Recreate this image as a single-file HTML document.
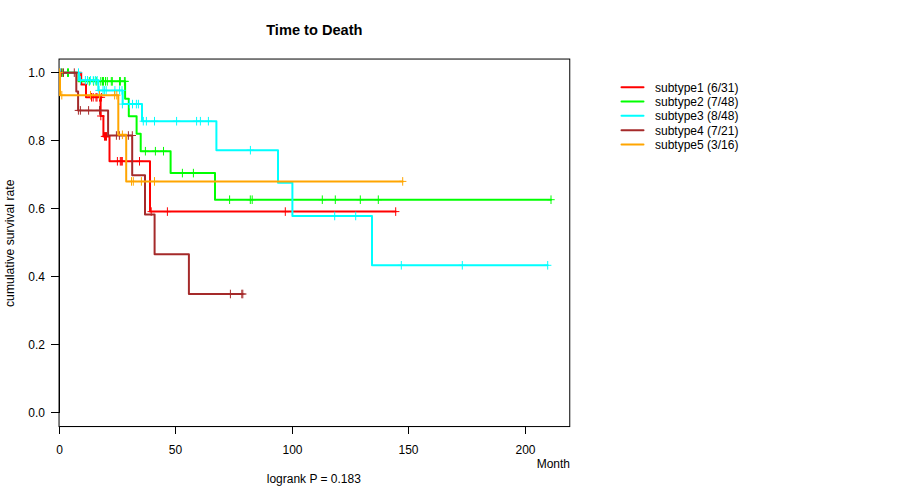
<!DOCTYPE html>
<html><head><meta charset="utf-8">
<style>
html,body{margin:0;padding:0;background:#fff;}
body{width:900px;height:500px;overflow:hidden;font-family:"Liberation Sans",sans-serif;}
svg{display:block;}
text{font-family:"Liberation Sans",sans-serif;fill:#000;}
</style></head><body>
<svg width="900" height="500" viewBox="0 0 900 500">
<rect width="900" height="500" fill="#fff"/>
<defs><clipPath id="pc"><rect x="59.04" y="59.04" width="510.72" height="367.52"/></clipPath></defs>
<rect x="59.04" y="59.04" width="510.72" height="367.52" fill="none" stroke="#000" stroke-width="1"/>
<g shape-rendering="crispEdges" fill="none" stroke="#000" stroke-width="1">
<path d="M59.5 426.5H525.5M59.5 426.5v7M175.5 426.5v7M292.5 426.5v7M408.5 426.5v7M525.5 426.5v7"/>
<path d="M59.5 72.5V412.5M51 72.5h9M51 140.5h9M51 208.5h9M51 276.5h9M51 344.5h9M51 412.5h9"/>
</g>
<g fill="none" clip-path="url(#pc)">
<path d="M59.5 72.65 H81.2 V84.5 H86 V97.3 H100.6 V116 H103.4 V136.4 H109.5 V161.3 H150 V211.6 H395.7" stroke="#ff0000" stroke-width="2" stroke-linejoin="round" stroke-linecap="round"/>
<path d="M91.5 93.40V101.20M88.20 97.3H94.80M93.2 93.40V101.20M89.90 97.3H96.50M96 93.40V101.20M92.70 97.3H99.30M97 93.40V101.20M93.70 97.3H100.30M99.5 93.40V101.20M96.20 97.3H102.80M101.4 93.40V101.20M98.10 97.3H104.70M100.8 112.10V119.90M97.50 116H104.10M104.5 132.50V140.30M101.20 136.4H107.80M105.5 132.50V140.30M102.20 136.4H108.80M106.5 132.50V140.30M103.20 136.4H109.80M117.4 157.40V165.20M114.10 161.3H120.70M120.3 157.40V165.20M117.00 161.3H123.60M121.3 157.40V165.20M118.00 161.3H124.60M122.3 157.40V165.20M119.00 161.3H125.60M139.5 157.40V165.20M136.20 161.3H142.80M151.2 207.70V215.50M147.90 211.6H154.50M167.4 207.70V215.50M164.10 211.6H170.70M285.3 207.70V215.50M282.00 211.6H288.60M395.7 207.70V215.50M392.40 211.6H399.00" stroke="#ff0000" stroke-width="1" stroke-linecap="round"/>
<path d="M59.5 72.65 H78.5 V81.35 H125.1 V98.85 H128.8 V116.3 H136.6 V133.8 H140.7 V151.2 H170.6 V173.1 H215 V199.7 H551" stroke="#00ff00" stroke-width="2" stroke-linejoin="round" stroke-linecap="round"/>
<path d="M62.3 68.75V76.55M59.00 72.65H65.60M67.5 68.75V76.55M64.20 72.65H70.80M68.5 68.75V76.55M65.20 72.65H71.80M89.3 77.45V85.25M86.00 81.35H92.60M93.6 77.45V85.25M90.30 81.35H96.90M96.2 77.45V85.25M92.90 81.35H99.50M100.8 77.45V85.25M97.50 81.35H104.10M102.5 77.45V85.25M99.20 81.35H105.80M103.5 77.45V85.25M100.20 81.35H106.80M105.5 77.45V85.25M102.20 81.35H108.80M107.3 77.45V85.25M104.00 81.35H110.60M111.3 77.45V85.25M108.00 81.35H114.60M112.3 77.45V85.25M109.00 81.35H115.60M119.5 77.45V85.25M116.20 81.35H122.80M120.4 77.45V85.25M117.10 81.35H123.70M124.4 77.45V85.25M121.10 81.35H127.70M125.2 77.45V85.25M121.90 81.35H128.50M145.4 147.30V155.10M142.10 151.2H148.70M155.4 147.30V155.10M152.10 151.2H158.70M163.5 147.30V155.10M160.20 151.2H166.80M182.4 169.20V177.00M179.10 173.1H185.70M193.4 169.20V177.00M190.10 173.1H196.70M229.6 195.80V203.60M226.30 199.7H232.90M250.3 195.80V203.60M247.00 199.7H253.60M252.2 195.80V203.60M248.90 199.7H255.50M322.3 195.80V203.60M319.00 199.7H325.60M335.3 195.80V203.60M332.00 199.7H338.60M360.3 195.80V203.60M357.00 199.7H363.60M378.3 195.80V203.60M375.00 199.7H381.60M551 195.80V203.60M547.70 199.7H554.30" stroke="#00ff00" stroke-width="1" stroke-linecap="round"/>
<path d="M59.5 72.65 H79 V80.3 H98.3 V90.4 H122.7 V104.1 H142 V121.2 H216.4 V150.2 H278 V182.7 H292.4 V216 H372 V265.3 H547.7" stroke="#00ffff" stroke-width="2" stroke-linejoin="round" stroke-linecap="round"/>
<path d="M60.6 68.75V76.55M57.30 72.65H63.90M78.5 68.75V76.55M75.20 72.65H81.80M80.5 76.40V84.20M77.20 80.3H83.80M85.4 76.40V84.20M82.10 80.3H88.70M87.5 76.40V84.20M84.20 80.3H90.80M90.4 76.40V84.20M87.10 80.3H93.70M93.3 76.40V84.20M90.00 80.3H96.60M95.4 76.40V84.20M92.10 80.3H98.70M97.2 76.40V84.20M93.90 80.3H100.50M99 86.50V94.30M95.70 90.4H102.30M103 86.50V94.30M99.70 90.4H106.30M104.4 86.50V94.30M101.10 90.4H107.70M106.2 86.50V94.30M102.90 90.4H109.50M114.9 86.50V94.30M111.60 90.4H118.20M119.6 86.50V94.30M116.30 90.4H122.90M122 86.50V94.30M118.70 90.4H125.30M122.4 100.20V108.00M119.10 104.1H125.70M129.4 100.20V108.00M126.10 104.1H132.70M132.5 100.20V108.00M129.20 104.1H135.80M136.4 100.20V108.00M133.10 104.1H139.70M138.4 100.20V108.00M135.10 104.1H141.70M143.3 117.30V125.10M140.00 121.2H146.60M146.4 117.30V125.10M143.10 121.2H149.70M154.5 117.30V125.10M151.20 121.2H157.80M176.6 117.30V125.10M173.30 121.2H179.90M196.6 117.30V125.10M193.30 121.2H199.90M200.4 117.30V125.10M197.10 121.2H203.70M208.4 117.30V125.10M205.10 121.2H211.70M250.4 146.30V154.10M247.10 150.2H253.70M334.7 212.10V219.90M331.40 216H338.00M355.7 212.10V219.90M352.40 216H359.00M401.3 261.40V269.20M398.00 265.3H404.60M462.3 261.40V269.20M459.00 265.3H465.60M547.7 261.40V269.20M544.40 265.3H551.00" stroke="#00ffff" stroke-width="1" stroke-linecap="round"/>
<path d="M59.5 72.65 H76.3 V91.4 H78.1 V110.4 H108.1 V135.5 H132.2 V175.3 H145 V214.6 H154.6 V254.2 H188.9 V294 H242.6" stroke="#a52a2a" stroke-width="2" stroke-linejoin="round" stroke-linecap="round"/>
<path d="M61.4 68.75V76.55M58.10 72.65H64.70M63.5 68.75V76.55M60.20 72.65H66.80M74.3 68.75V76.55M71.00 72.65H77.60M78.4 106.50V114.30M75.10 110.4H81.70M80.4 106.50V114.30M77.10 110.4H83.70M88.6 106.50V114.30M85.30 110.4H91.90M99.5 106.50V114.30M96.20 110.4H102.80M116.4 131.60V139.40M113.10 135.5H119.70M119.4 131.60V139.40M116.10 135.5H122.70M128.4 131.60V139.40M125.10 135.5H131.70M132.3 131.60V139.40M129.00 135.5H135.60M230.4 290.10V297.90M227.10 294H233.70M241.8 290.10V297.90M238.50 294H245.10M242.8 290.10V297.90M239.50 294H246.10" stroke="#a52a2a" stroke-width="1" stroke-linecap="round"/>
<path d="M59.5 72.65 H60 V95.2 H118.3 V134.8 H126.2 V181.4 H402.7" stroke="#ffa500" stroke-width="2" stroke-linejoin="round" stroke-linecap="round"/>
<path d="M59.6 68.75V76.55M56.30 72.65H62.90M61.8 91.30V99.10M58.50 95.2H65.10M90.5 91.30V99.10M87.20 95.2H93.80M99.5 91.30V99.10M96.20 95.2H102.80M114.6 91.30V99.10M111.30 95.2H117.90M116.8 91.30V99.10M113.50 95.2H120.10M122.4 130.90V138.70M119.10 134.8H125.70M131.5 177.50V185.30M128.20 181.4H134.80M133.3 177.50V185.30M130.00 181.4H136.60M141.4 177.50V185.30M138.10 181.4H144.70M154.5 177.50V185.30M151.20 181.4H157.80M402.7 177.50V185.30M399.40 181.4H406.00" stroke="#ffa500" stroke-width="1" stroke-linecap="round"/>
</g>
<text x="266.2" y="35" font-size="14.7" font-weight="bold" textLength="96.3" lengthAdjust="spacingAndGlyphs">Time to Death</text>
<g font-size="12" text-anchor="middle">
<text x="59.5" y="454">0</text><text x="175.5" y="454">50</text><text x="292.5" y="454">100</text><text x="408.5" y="454">150</text><text x="525.5" y="454">200</text>
</g>
<g font-size="12" text-anchor="end">
<text x="45" y="77">1.0</text><text x="45" y="145">0.8</text><text x="45" y="213">0.6</text><text x="45" y="281">0.4</text><text x="45" y="349">0.2</text><text x="45" y="417">0.0</text>
</g>
<text x="570" y="468" font-size="12" text-anchor="end">Month</text>
<text x="266.8" y="483" font-size="12" textLength="94" lengthAdjust="spacingAndGlyphs">logrank P = 0.183</text>
<text transform="translate(14,307) rotate(-90)" font-size="12" textLength="127.5" lengthAdjust="spacingAndGlyphs">cumulative survival rate</text>
<g stroke-width="2" fill="none" stroke-linecap="round"><path d="M621.5 87.2H643.5" stroke="#ff0000"/><path d="M621.5 101.5H643.5" stroke="#00ff00"/><path d="M621.5 115.8H643.5" stroke="#00ffff"/><path d="M621.5 130.3H643.5" stroke="#a52a2a"/><path d="M621.5 144.6H643.5" stroke="#ffa500"/></g>
<g font-size="12"><text x="655" y="91.8">subtype1 (6/31)</text><text x="655" y="105.9">subtype2 (7/48)</text><text x="655" y="119.9">subtype3 (8/48)</text><text x="655" y="135.0">subtype4 (7/21)</text><text x="655" y="149.3">subtype5 (3/16)</text></g>
</svg>
</body></html>
